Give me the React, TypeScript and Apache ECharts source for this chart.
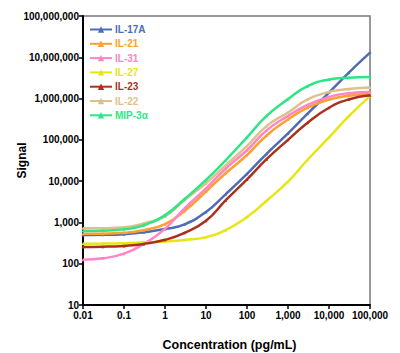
import React, { useEffect, useRef } from "react";
import * as echarts from "echarts";

const concentrations = [0.01, 0.03, 0.1, 0.3, 1, 3, 10, 30, 100, 300, 1000, 3000, 10000, 30000, 100000];

const il17a = [495, 500, 520, 580, 690, 900, 1800, 4800, 15000, 46000, 143000, 430000, 1400000, 4200000, 13000000];
const il21 = [530, 535, 560, 650, 910, 1900, 5600, 15500, 43000, 128000, 310000, 600000, 950000, 1170000, 1300000];
const il31 = [125, 135, 175, 300, 700, 2200, 6700, 20000, 56000, 170000, 380000, 700000, 1100000, 1350000, 1450000];
const il27 = [305, 307, 312, 330, 345, 375, 440, 650, 1350, 3350, 9700, 33000, 115000, 370000, 1150000];
const il23 = [255, 258, 270, 300, 380, 560, 1100, 3400, 11000, 34000, 100000, 260000, 600000, 950000, 1200000];
const il22 = [720, 725, 760, 950, 1400, 3500, 8900, 24000, 71000, 215000, 460000, 950000, 1450000, 1700000, 1850000];
const mip3a = [620, 630, 680, 850, 1500, 3700, 10700, 32000, 115000, 380000, 970000, 2000000, 2900000, 3200000, 3350000];

const seriesNames = ["IL-17A", "IL-21", "IL-31", "IL-27", "IL-23", "IL-22", "MIP-3α"];
const seriesValues = [il17a, il21, il31, il27, il23, il22, mip3a];
const seriesColors = ["#4e6db5", "#ff9f2e", "#ff85c6", "#e6e615", "#a8321c", "#dcc18c", "#30e585"];

const FONT = "'Liberation Sans', Arial, sans-serif";

function fmt(v: number): string {
  if (v < 1) return String(+v.toPrecision(2));
  return Math.round(v).toLocaleString("en-US");
}

export default function App() {
  const ref = useRef<HTMLDivElement>(null);
  useEffect(() => {
    if (!ref.current) return;
    const chart = echarts.init(ref.current, null, { renderer: "svg" });
    chart.setOption({
      animation: false,
      backgroundColor: "#ffffff",
      textStyle: { fontFamily: FONT },
      grid: {
        left: 83,
        right: 30,
        top: 16,
        bottom: 48,
        outerBoundsMode: "none",
        containLabel: false,
        show: true,
        borderColor: "#777777",
        borderWidth: 1.5,
        backgroundColor: "transparent",
      },
      legend: {
        orient: "vertical",
        left: 89,
        top: 24,
        padding: 0,
        itemWidth: 22,
        itemHeight: 8,
        itemGap: 3.3,
        data: seriesNames.map((n, i) => ({
          name: n,
          textStyle: { color: seriesColors[i] },
        })),
        textStyle: {
          fontFamily: FONT,
          fontSize: 10,
          fontWeight: "bold",
          lineHeight: 11,
          padding: [0, 0, 0, -2],
        },
      },
      xAxis: {
        type: "log",
        logBase: 10,
        min: 0.01,
        max: 100000,
        interval: 1,
        name: "Concentration (pg/mL)",
        nameLocation: "middle",
        nameGap: 33,
        nameMoveOverlap: false,
        nameTextStyle: { fontFamily: FONT, fontSize: 12.5, fontWeight: "bold", color: "#000", padding: [0, 0, 0, 6] },
        axisLine: { show: true, lineStyle: { color: "#000", width: 2 } },
        axisTick: { show: true, length: 4, lineStyle: { color: "#000", width: 1.5 } },
        minorTick: { show: false },
        splitLine: { show: false },
        axisLabel: {
          fontFamily: FONT,
          fontSize: 10,
          fontWeight: "bold",
          color: "#000",
          margin: 5,
          formatter: (v: number) => fmt(v),
        },
      },
      yAxis: {
        type: "log",
        logBase: 10,
        min: 10,
        max: 100000000,
        interval: 1,
        name: "Signal",
        nameLocation: "middle",
        nameRotate: 90,
        nameGap: 55,
        nameMoveOverlap: false,
        nameTextStyle: { fontFamily: FONT, fontSize: 12, fontWeight: "bold", color: "#000" },
        axisLine: { show: true, lineStyle: { color: "#000", width: 2 } },
        axisTick: { show: true, length: 4, lineStyle: { color: "#000", width: 1.5 } },
        splitLine: { show: false },
        axisLabel: {
          fontFamily: FONT,
          fontSize: 10,
          fontWeight: "bold",
          color: "#000",
          margin: 4,
          formatter: (v: number) => fmt(v),
        },
      },
      series: seriesNames.map((name, i) => ({
        name,
        type: "line",
        smooth: 0.5,
        data: concentrations.map((c, j) => [c, seriesValues[i][j]]),
        symbol: "triangle",
        symbolSize: 3,
        showSymbol: true,
        itemStyle: { color: seriesColors[i] },
        lineStyle: { color: seriesColors[i], width: 2.5 },
        z: 2 + i,
      })),
    });
    return () => chart.dispose();
  }, []);
  return (
    <div
      ref={ref}
      style={{ position: "fixed", left: 0, top: 0, width: 400, height: 353, background: "#fff" }}
    />
  );
}
